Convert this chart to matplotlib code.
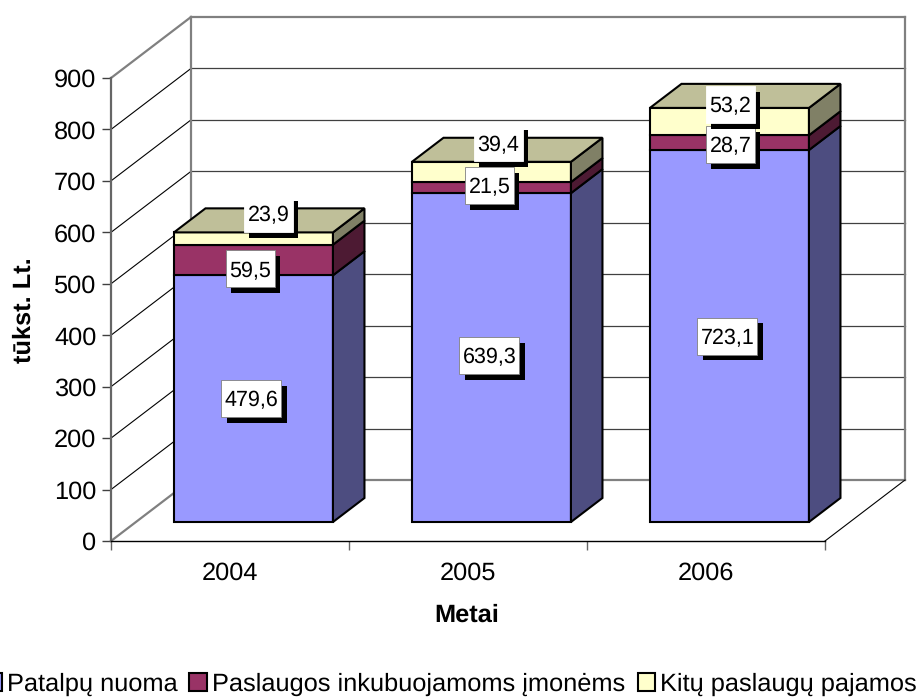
import matplotlib
matplotlib.use('Agg')
import matplotlib.pyplot as plt
from matplotlib.patches import Patch, Polygon, Rectangle
from matplotlib.transforms import Affine2D

plt.rcParams['font.family'] = ['Liberation Sans', 'DejaVu Sans']
plt.rcParams['text.hinting'] = 'no_hinting'

# Data
years = ['2004', '2005', '2006']
patalpu = [479.6, 639.3, 723.1]
inkubuojamoms = [59.5, 21.5, 28.7]
kitu = [23.9, 39.4, 53.2]
series_names = ['Patalpų nuoma', 'Paslaugos inkubuojamoms įmonėms', 'Kitų paslaugų pajamos']
yticks = [0, 100, 200, 300, 400, 500, 600, 700, 800, 900]

# Box depth in data units (front plane -> back wall)
DX = 80 / 238
DY = 61 / (463 / 900)
BAR_FRONT, BAR_BACK = 0.311, 0.705
BAR_START, BAR_WIDTH = 0.16, 0.668

front_cols = ['#9999FF', '#993366', '#FFFFCC']
side_cols = ['#4D4D80', '#4D1A33', '#808066']
top_cols = ['#4D4D80', '#732649', '#BFBF99']
WALL = '#808080'
FS = 18.3

fig = plt.figure(figsize=(9.18, 6.98), dpi=100)
ax = fig.add_axes([111 / 918, (698 - 541) / 698, 714 / 918, 463 / 698])
ax.set_xlim(0, 3)
ax.set_ylim(0, 900)


def proj(x, y, d):
    return (x + d * DX, y + d * DY)


def wall_line(p1, p2, **kw):
    ax.plot([p1[0], p2[0]], [p1[1], p2[1]], clip_on=False, solid_capstyle='projecting', **kw)


# side wall and back wall gridlines
for v in yticks[1:-1]:
    wall_line(proj(0, v, 0), proj(0, v, 1), color='black', lw=0.8, zorder=1)
    wall_line(proj(0, v, 1), proj(3, v, 1), color='#404040', lw=0.9, zorder=1)

# outline of the walls and floor
wall_line(proj(0, 0, 0), proj(0, 0, 1), color=WALL, lw=1.6, zorder=2)
wall_line(proj(0, 900, 0), proj(0, 900, 1), color=WALL, lw=1.6, zorder=2)
wall_line(proj(0, 0, 1), proj(0, 900, 1), color=WALL, lw=1.6, zorder=2)
wall_line(proj(0, 900, 1), proj(3, 900, 1), color=WALL, lw=1.6, zorder=2)
wall_line(proj(3, 0, 1), proj(3, 900, 1), color=WALL, lw=1.6, zorder=2)
wall_line(proj(0, 0, 1), proj(3, 0, 1), color=WALL, lw=1.6, zorder=2)
wall_line(proj(3, 0, 0), proj(3, 0, 1), color='black', lw=0.8, zorder=2)


def face(pts, col, z):
    ax.add_patch(Polygon(pts, closed=True, facecolor=col, edgecolor='black', lw=1.5,
                         joinstyle='miter', clip_on=False, zorder=z))


# stacked boxes, bottom segment first
for i in range(len(years)):
    x0 = i + BAR_START
    x1 = x0 + BAR_WIDTH
    base = 0
    for k, vals in enumerate([patalpu, inkubuojamoms, kitu]):
        top = base + vals[i]
        z = 5 + k
        face([proj(x0, base, BAR_FRONT), proj(x1, base, BAR_FRONT),
              proj(x1, top, BAR_FRONT), proj(x0, top, BAR_FRONT)], front_cols[k], z)
        face([proj(x1, base, BAR_FRONT), proj(x1, base, BAR_BACK),
              proj(x1, top, BAR_BACK), proj(x1, top, BAR_FRONT)], side_cols[k], z)
        if k == 2:
            face([proj(x0, top, BAR_FRONT), proj(x1, top, BAR_FRONT),
                  proj(x1, top, BAR_BACK), proj(x0, top, BAR_BACK)], top_cols[k], z)
        base = top

# value labels: white box with a black drop shadow, nudged in pixels like the original
nudges = {
    (0, 0): (-2, 0), (0, 1): (-3, -9), (0, 2): (15, 25),
    (1, 0): (-2, 2), (1, 1): (-2, 2), (1, 2): (7, 29),
    (2, 0): (-2, 0), (2, 1): (1, -2), (2, 2): (1, 17),
}
fig.canvas.draw()
for i in range(len(years)):
    base = 0
    for k, vals in enumerate([patalpu, inkubuojamoms, kitu]):
        mid = base + vals[i] / 2
        base += vals[i]
        px, py = ax.transData.transform(proj(i + BAR_START + BAR_WIDTH / 2, mid, BAR_FRONT))
        px += nudges[(i, k)][0]
        py += nudges[(i, k)][1]
        label = f'{vals[i]:.1f}'.replace('.', ',')
        w = 60 if vals[i] >= 100 else 49
        h = 37
        shift = Affine2D().translate(px, py)
        ax.add_artist(Rectangle((-w / 2 + 5.5, -h / 2 - 5.5), w, h, transform=shift, facecolor='black',
                                edgecolor='none', clip_on=False, zorder=10 + k * 2))
        # the top series has no visible border on its box
        border = '#808080' if k < 2 else 'white'
        ax.add_artist(Rectangle((-w / 2, -h / 2), w, h, transform=shift, facecolor='white',
                                edgecolor=border, lw=0.6, clip_on=False, zorder=11 + k * 2))
        ax.text(0, 0, label, transform=shift, ha='center', va='center_baseline', fontsize=15.5,
                color='black', clip_on=False, zorder=20)

# axes
for s in ['top', 'right']:
    ax.spines[s].set_visible(False)
ax.spines['left'].set_color('#666666')
ax.spines['left'].set_linewidth(1.6)
ax.spines['bottom'].set_color('black')
ax.spines['bottom'].set_linewidth(1.0)
ax.set_yticks(yticks)
ax.set_xticks([0, 1, 2, 3])
ax.set_xticklabels([])
ax.set_xticks([0.5, 1.5, 2.5], minor=True)
ax.set_xticklabels(years, minor=True, fontsize=FS)
ax.tick_params(axis='x', which='minor', length=0, pad=14.7)
ax.tick_params(axis='x', which='major', length=6.5, width=1, color='#666666')
ax.tick_params(axis='y', length=6.5, width=1, color='#404040', labelsize=FS, pad=4)
ax.patch.set_visible(False)

fig.text(467 / 918, 1 - 615 / 698, 'Metai', fontsize=FS, fontweight='bold', ha='center', va='center')
fig.text(24 / 918, 1 - 310 / 698, 'tūkst. Lt.', fontsize=FS, fontweight='bold', rotation=90,
         ha='center', va='center')

handles = [Patch(facecolor=c, edgecolor='black', lw=1.5) for c in front_cols]
fig.legend(handles, series_names, ncols=3, loc='lower left', bbox_to_anchor=(-16 / 918, 2 / 698),
           frameon=False, fontsize=FS, handlelength=0.7, handleheight=0.7, handletextpad=0.2,
           columnspacing=0.47, borderpad=0, borderaxespad=0)

fig.savefig('out.png', dpi=100)
